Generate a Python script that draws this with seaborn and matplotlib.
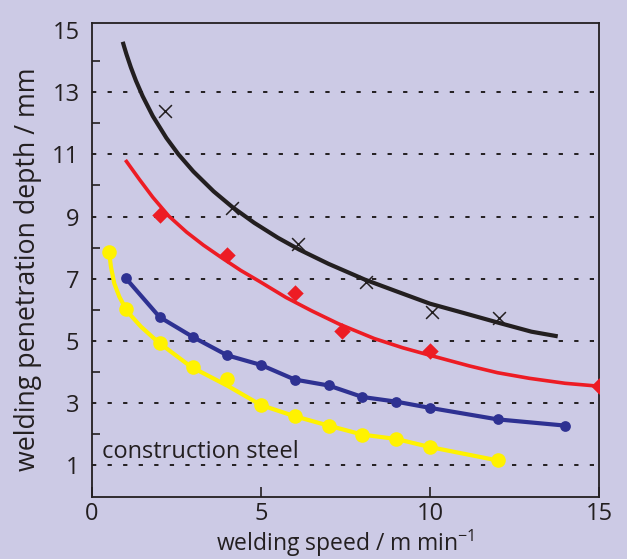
import numpy as np
import pandas as pd
import matplotlib
matplotlib.use("Agg")
import matplotlib.pyplot as plt
import seaborn as sns

# Measured welding penetration depth (mm) vs welding speed (m/min), construction steel
black_x = [2.15, 4.15, 6.1, 8.1, 10.05, 12.05]
black_y = [12.4, 9.28, 8.12, 6.91, 5.93, 5.75]
black_fit_x = [0.91, 0.95, 1.02, 1.15, 1.3, 1.5, 1.8, 2.2, 2.56, 3.0, 3.6, 4.15, 4.8,
               5.5, 6.13, 7.0, 8.06, 9.0, 10.0, 11.0, 12.05, 13.0, 13.78]
black_fit_y = [14.62, 14.47, 14.22, 13.8, 13.37, 12.87, 12.23, 11.53, 11.0, 10.45, 9.81,
               9.31, 8.8, 8.32, 7.94, 7.48, 6.98, 6.6, 6.2, 5.9, 5.58, 5.3, 5.15]

red_x = [2.0, 4.0, 6.0, 7.4, 10.0, 15.0]
red_y = [9.05, 7.76, 6.55, 5.33, 4.68, 3.55]
red_fit_x = [0.99, 1.4, 1.8, 2.27, 2.8, 3.3, 3.86, 4.4, 4.95, 5.74, 6.5, 7.3, 8.35,
             9.2, 10.0, 11.16, 12.0, 12.94, 14.0, 14.96]
red_fit_y = [10.82, 10.2, 9.62, 9.02, 8.5, 8.08, 7.66, 7.27, 6.92, 6.4, 5.97, 5.55, 5.08,
             4.78, 4.54, 4.2, 3.98, 3.8, 3.64, 3.55]

blue_x = [1, 2, 3, 4, 5, 6, 7, 8, 9, 10, 12, 14]
blue_y = [7.02, 5.77, 5.12, 4.54, 4.23, 3.76, 3.57, 3.2, 3.05, 2.85, 2.48, 2.28]

yellow_x = [0.5, 1, 2, 3, 4, 5, 6, 7, 8, 9, 10, 12]
yellow_y = [7.85, 6.03, 4.94, 4.15, 3.77, 2.94, 2.58, 2.28, 1.99, 1.85, 1.59, 1.16]
yellow_fit_x = [0.51, 0.56, 0.66, 0.81, 1.05, 1.45, 1.94, 2.93, 4.01, 5, 6, 7, 8, 9, 10, 12]
yellow_fit_y = [7.84, 7.39, 6.85, 6.42, 5.94, 5.46, 4.98, 4.17, 3.56, 2.94, 2.58, 2.28,
                1.99, 1.85, 1.59, 1.16]

grid_levels = [1, 3, 5, 7, 9, 11, 13]
y_labels = [1, 3, 5, 7, 9, 11, 13, 15]
x_labels = [0, 5, 10, 15]

BG = "#cccae5"
INK = "#231f20"
RED = "#ed1c24"
BLUE = "#2e3192"
YELLOW = "#fff200"

sns.set_style("ticks")
plt.rcParams["font.family"] = ["Open Sans", "DejaVu Sans"]
plt.rcParams["mathtext.fontset"] = "custom"
plt.rcParams["mathtext.rm"] = "Open Sans"

fig = plt.figure(figsize=(6.27, 5.59), dpi=100, facecolor=BG)
ax = fig.add_axes([0.1467, 0.1118, 0.8086, 0.8479])
ax.set_facecolor(BG)

# dotted reference lines at the odd depths
for lv in grid_levels:
    ax.axhline(lv, xmin=0, xmax=0.99, color=INK, lw=1.4,
               ls=(0, (2.2, 5.8)), zorder=1)

def curve(xs, ys, color, lw):
    df = pd.DataFrame({"x": xs, "y": ys})
    sns.lineplot(data=df, x="x", y="y", ax=ax, color=color, lw=lw, sort=False,
                 estimator=None, solid_capstyle="butt", solid_joinstyle="round", zorder=3)

def points(xs, ys, color, marker, size, lw=0):
    df = pd.DataFrame({"x": xs, "y": ys})
    sns.scatterplot(data=df, x="x", y="y", ax=ax, color=color, marker=marker,
                    s=size, linewidth=lw, edgecolor=color, zorder=4)

curve(black_fit_x, black_fit_y, INK, 3.0)
curve(red_fit_x, red_fit_y, RED, 2.6)
curve(blue_x, blue_y, BLUE, 3.0)
curve(yellow_fit_x, yellow_fit_y, YELLOW, 3.0)

points(black_x, black_y, INK, "x", 85, lw=1.1)
points(red_x, red_y, RED, "D", 70)
points(blue_x, blue_y, BLUE, "o", 60)
points(yellow_x, yellow_y, YELLOW, "o", 110)

ax.set_xlim(0, 15)
ax.set_ylim(0, 15.24)

ax.set_yticks(y_labels)
ax.set_yticklabels([str(v) for v in y_labels])
ax.set_yticks([2, 4, 6, 8, 10, 12, 14], minor=True)
ax.set_xticks(x_labels)
ax.set_xticklabels([str(v) for v in x_labels])

ax.tick_params(axis="y", which="major", length=0, pad=9, labelsize=17, colors=INK)
ax.tick_params(axis="y", which="minor", direction="in", length=6, width=1.2, color=INK)
ax.tick_params(axis="x", which="major", direction="in", length=7, width=1.2,
               pad=4, labelsize=17, colors=INK)

for sp in ax.spines.values():
    sp.set_visible(True)
    sp.set_color(INK)
    sp.set_linewidth(1.3)

ax.set_xlabel("")
ax.set_ylabel("")
fig.text(345.5 / 627, 1 - 551 / 559, r"welding speed / m min$^{\mathregular{-1}}$",
         fontsize=16.5, color=INK, ha="center", va="baseline")
fig.text(28 / 627, 1 - 269 / 559, "welding penetration depth / mm",
         fontsize=19.3, color=INK, ha="center", va="center", rotation=90)

ax.text(0.3, 1.24, "construction steel", fontsize=17, color=INK, va="baseline", ha="left")

fig.savefig("out.png", dpi=100, facecolor=BG)
